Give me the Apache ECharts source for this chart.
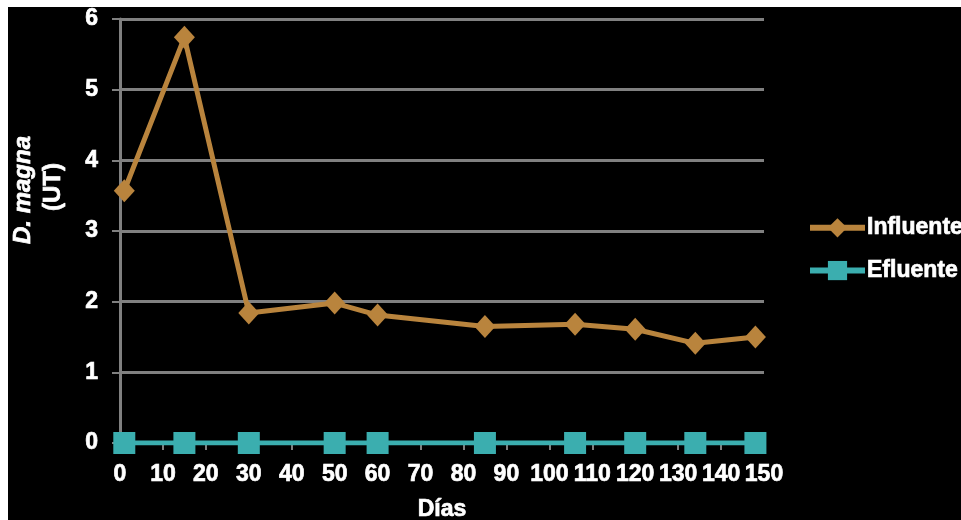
<!DOCTYPE html>
<html>
<head>
<meta charset="utf-8">
<script src="https://cdn.jsdelivr.net/npm/echarts@6/dist/echarts.min.js"></script>
<style>
  html, body { margin: 0; padding: 0; background: #ffffff; width: 961px; height: 520px; overflow: hidden; }
  #chart { position: absolute; left: 8px; top: 7px; width: 953px; height: 513px; background: #000000; }
</style>
</head>
<body>
<div id="chart"></div>
<script>
// Data
const dias = [1, 15, 30, 50, 60, 85, 106, 120, 134, 148];
const influente = [3.57, 5.74, 1.84, 1.98, 1.81, 1.65, 1.68, 1.61, 1.41, 1.50];
const efluente = [0, 0, 0, 0, 0, 0, 0, 0, 0, 0];
const seriesNames = ['Influente', 'Efluente'];
const xAxisTitle = 'Días';
const yAxisTitle1 = 'D. magna';
const yAxisTitle2 = '(UT)';

const FONT = '"Liberation Sans", Arial, sans-serif';
const GRID = '#808080';
const TXT = { color: '#fff', fontFamily: FONT, fontWeight: 'bold', fontSize: 23, textBorderColor: '#fff', textBorderWidth: 0.7 };

const chart = echarts.init(document.getElementById('chart'), null, { renderer: 'canvas' });

chart.setOption({
  backgroundColor: '#000000',
  animation: false,
  grid: { left: 112, right: 197, top: 12, bottom: 77, containLabel: false, outerBoundsMode: 'none' },
  xAxis: {
    type: 'value',
    min: 0, max: 150, interval: 10,
    name: xAxisTitle,
    nameLocation: 'middle',
    nameGap: 55,
    nameTextStyle: Object.assign({}, TXT),
    axisLine: { show: true, lineStyle: { color: GRID, width: 3 } },
    axisTick: { show: true, length: 7, lineStyle: { color: GRID, width: 2 } },
    axisLabel: Object.assign({ margin: 20 }, TXT),
    splitLine: { show: false }
  },
  yAxis: {
    type: 'value',
    min: 0, max: 6, interval: 1,
    axisLine: { show: true, lineStyle: { color: GRID, width: 3 } },
    axisTick: { show: true, length: 8, lineStyle: { color: GRID, width: 2 } },
    axisLabel: Object.assign({ margin: 22 }, TXT),
    splitLine: { show: true, lineStyle: { color: GRID, width: 3 } }
  },
  legend: {
    orient: 'vertical',
    left: 799, top: 209,
    padding: 0,
    itemWidth: 55, itemHeight: 24, itemGap: 19,
    lineStyle: { width: 6 },
    textStyle: Object.assign({ padding: [0, 0, 0, -3] }, TXT),
    data: seriesNames
  },
  graphic: [
    {
      type: 'text', x: 15, y: 183, rotation: Math.PI / 2,
      style: { text: yAxisTitle1, x: 0, y: 0, textAlign: 'center', textVerticalAlign: 'middle', align: 'center', verticalAlign: 'middle',
               font: 'italic bold 24px ' + FONT, fill: '#fff', stroke: '#fff', lineWidth: 0.7 }
    },
    {
      type: 'text', x: 45, y: 180, rotation: Math.PI / 2,
      style: { text: yAxisTitle2, x: 0, y: 0, textAlign: 'center', textVerticalAlign: 'middle', align: 'center', verticalAlign: 'middle',
               font: 'bold 24px ' + FONT, fill: '#fff', stroke: '#fff', lineWidth: 0.7 }
    }
  ],
  series: [
    {
      name: seriesNames[0],
      type: 'line',
      data: dias.map((d, i) => [d, influente[i]]),
      symbol: 'diamond', symbolSize: [21, 23],
      itemStyle: { color: '#B9843D' },
      lineStyle: { color: '#B9843D', width: 5 },
      z: 3
    },
    {
      name: seriesNames[1],
      type: 'line',
      data: dias.map((d, i) => [d, efluente[i]]),
      symbol: 'rect', symbolSize: 22,
      itemStyle: { color: '#3BAEAF' },
      lineStyle: { color: '#3BAEAF', width: 5 },
      z: 4
    }
  ]
});
</script>
</body>
</html>
